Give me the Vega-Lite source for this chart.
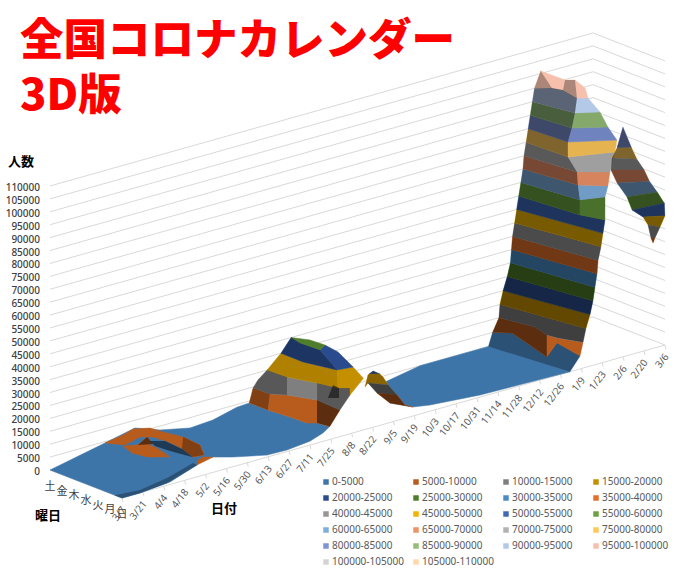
{
"$schema":"https://vega.github.io/schema/vega-lite/v6.json",
"width":680,"height":573,"padding":0,"autosize":{"type":"none"},
"background":"white",
"config":{"view":{"stroke":null}},
"resolve":{"scale":{"fill":"independent"}},
"title":{"text":["全国コロナカレンダー","3D版"],"font":"Noto Sans CJK JP","fontWeight":900,"fontSize":43.5,"lineHeight":55,"color":"#FF0000","anchor":"start","frame":"group","baseline":"top","dx":20,"offset":-119},
"datasets":{
"levels":[{"cases":0},{"cases":5000},{"cases":10000},{"cases":15000},{"cases":20000},{"cases":25000},{"cases":30000},{"cases":35000},{"cases":40000},{"cases":45000},{"cases":50000},{"cases":55000},{"cases":60000},{"cases":65000},{"cases":70000},{"cases":75000},{"cases":80000},{"cases":85000},{"cases":90000},{"cases":95000},{"cases":100000},{"cases":105000},{"cases":110000}],
"dates":[{"label":"3/7","week":0},{"label":"3/21","week":2},{"label":"4/4","week":4},{"label":"4/18","week":6},{"label":"5/2","week":8},{"label":"5/16","week":10},{"label":"5/30","week":12},{"label":"6/13","week":14},{"label":"6/27","week":16},{"label":"7/11","week":18},{"label":"7/25","week":20},{"label":"8/8","week":22},{"label":"8/22","week":24},{"label":"9/5","week":26},{"label":"9/19","week":28},{"label":"10/3","week":30},{"label":"10/17","week":32},{"label":"10/31","week":34},{"label":"11/14","week":36},{"label":"11/28","week":38},{"label":"12/12","week":40},{"label":"12/26","week":42},{"label":"1/9","week":44},{"label":"1/23","week":46},{"label":"2/6","week":48},{"label":"2/20","week":50},{"label":"3/6","week":52}],
"days":[{"label":"土","day":6},{"label":"金","day":5},{"label":"木","day":4},{"label":"水","day":3},{"label":"火","day":2},{"label":"月","day":1},{"label":"日","day":0}],
"names":[{"label":"人数","week":-2.78,"day":6,"cases":122300},{"label":"曜日","week":-6.68,"day":0.355,"cases":0},{"label":"日付","week":4.09,"day":-4.94,"cases":0}],
"edges":[{"edge":"day","week":0,"day":6},{"edge":"day","week":0,"day":0},{"edge":"date","week":0,"day":0},{"edge":"date","week":52,"day":0}],
"faces":[
{"poly":"f1","band":"0-5000","side":"flat"},{"poly":"f2","band":"0-5000","side":"mid"},{"poly":"f3","band":"0-5000","side":"flat"},
{"poly":"h1","band":"5000-10000","side":"flat"},{"poly":"h2","band":"5000-10000","side":"mid"},{"poly":"h3","band":"5000-10000","side":"flat"},{"poly":"h4","band":"5000-10000","side":"deep"},{"poly":"h5","band":"0-5000","side":"deep"},{"poly":"h6","band":"5000-10000","side":"flat"},
{"poly":"a1","band":"5000-10000","side":"mid"},{"poly":"a2","band":"5000-10000","side":"flat"},{"poly":"a3","band":"5000-10000","side":"deep"},
{"poly":"b1","band":"10000-15000","side":"mid"},{"poly":"b2","band":"10000-15000","side":"flat"},{"poly":"b3","band":"10000-15000","side":"mid"},{"poly":"b4","band":"10000-15000","side":"deep"},
{"poly":"c1","band":"15000-20000","side":"soft"},{"poly":"c2","band":"15000-20000","side":"flat"},
{"poly":"d1","band":"20000-25000","side":"mid"},{"poly":"d2","band":"20000-25000","side":"flat"},{"poly":"e1","band":"25000-30000","side":"flat"},
{"poly":"s1","band":"20000-25000","side":"mid"},{"poly":"s2","band":"15000-20000","side":"mid"},{"poly":"s3","band":"10000-15000","side":"deep"},{"poly":"s4","band":"5000-10000","side":"deep"},
{"poly":"w1","band":"0-5000","side":"mid"},{"poly":"w2","band":"5000-10000","side":"deep"},{"poly":"w3","band":"5000-10000","side":"flat"},{"poly":"w4","band":"10000-15000","side":"deep"},{"poly":"w5","band":"15000-20000","side":"deep"},{"poly":"w6","band":"20000-25000","side":"deep"},{"poly":"w7","band":"25000-30000","side":"deep"},{"poly":"w8","band":"30000-35000","side":"deep"},{"poly":"w9","band":"35000-40000","side":"deep"},{"poly":"w10","band":"40000-45000","side":"deep"},{"poly":"w11","band":"45000-50000","side":"deep"},{"poly":"w12","band":"50000-55000","side":"deep"},
{"poly":"x1","band":"15000-20000","side":"flat"},{"poly":"x2","band":"10000-15000","side":"flat"},
{"poly":"l13","band":"55000-60000","side":"deep"},{"poly":"r13","band":"55000-60000","side":"mid"},{"poly":"l14","band":"60000-65000","side":"deep"},{"poly":"r14","band":"60000-65000","side":"soft"},{"poly":"l15","band":"65000-70000","side":"deep"},{"poly":"r15","band":"65000-70000","side":"soft"},{"poly":"l16","band":"70000-75000","side":"deep"},{"poly":"r16","band":"70000-75000","side":"soft"},{"poly":"l17","band":"75000-80000","side":"deep"},{"poly":"r17","band":"75000-80000","side":"soft"},{"poly":"l18","band":"80000-85000","side":"deep"},{"poly":"r18","band":"80000-85000","side":"soft"},{"poly":"l19","band":"85000-90000","side":"deep"},{"poly":"r19","band":"85000-90000","side":"soft"},{"poly":"l20","band":"90000-95000","side":"deep"},{"poly":"r20","band":"90000-95000","side":"flat"},
{"poly":"p1","band":"95000-100000","side":"mid"},{"poly":"p2","band":"95000-100000","side":"flat"},{"poly":"p3","band":"95000-100000","side":"mid"},{"poly":"p4","band":"95000-100000","side":"flat"},
{"poly":"t1","band":"80000-85000","side":"deep"},{"poly":"t2","band":"75000-80000","side":"deep"},{"poly":"t3","band":"70000-75000","side":"deep"},{"poly":"t4","band":"65000-70000","side":"deep"},{"poly":"t5","band":"60000-65000","side":"deep"},{"poly":"t6","band":"55000-60000","side":"deep"},{"poly":"t7","band":"50000-55000","side":"deep"},{"poly":"t8","band":"45000-50000","side":"deep"},{"poly":"t9","band":"40000-45000","side":"deep"},{"poly":"t10","band":"35000-40000","side":"deep"}
],
"surface":[
{"poly":"f1","week":0,"day":6,"cases":0},{"poly":"f1","week":5.07,"day":5.83,"cases":5000},{"poly":"f1","week":8.14,"day":6,"cases":7000},{"poly":"f1","week":10.54,"day":6,"cases":3500},{"poly":"f1","week":13.41,"day":6,"cases":1000},{"poly":"f1","week":15.6,"day":6,"cases":1600},{"poly":"f1","week":17.9,"day":6,"cases":3900},{"poly":"f1","week":18.8,"day":5.75,"cases":5000},{"poly":"f1","week":18.83,"day":4.22,"cases":5000},{"poly":"f1","week":19.08,"day":2.35,"cases":5000},{"poly":"f1","week":19.14,"day":1.24,"cases":5000},{"poly":"f1","week":19.7,"day":0.89,"cases":5000},{"poly":"f1","week":19.9,"day":0,"cases":5000},{"poly":"f1","week":19.25,"day":0,"cases":3250},{"poly":"f1","week":18,"day":0,"cases":1500},{"poly":"f1","week":15.8,"day":0,"cases":600},{"poly":"f1","week":13.9,"day":0,"cases":800},{"poly":"f1","week":10.63,"day":0,"cases":3750},{"poly":"f1","week":7.85,"day":0,"cases":6900},{"poly":"f1","week":7.18,"day":0,"cases":4600},{"poly":"f1","week":4.6,"day":0,"cases":970},{"poly":"f1","week":1.72,"day":0,"cases":0},{"poly":"f1","week":0,"day":0,"cases":0},
{"poly":"f2","week":0,"day":0.6,"cases":0},{"poly":"f2","week":0,"day":0,"cases":0},{"poly":"f2","week":1.72,"day":0,"cases":0},{"poly":"f2","week":4.31,"day":0,"cases":900},{"poly":"f2","week":7.18,"day":0,"cases":4600},{"poly":"f2","week":7.24,"day":0.38,"cases":4600},{"poly":"f2","week":5.03,"day":0.62,"cases":900},{"poly":"f2","week":2.14,"day":0.36,"cases":0},
{"poly":"f3","week":31.17,"day":5.2,"cases":0},{"poly":"f3","week":35.44,"day":6,"cases":0},{"poly":"f3","week":42.1,"day":6,"cases":0},{"poly":"f3","week":42.9,"day":0,"cases":0},{"poly":"f3","week":34.3,"day":0,"cases":800},{"poly":"f3","week":29.5,"day":0,"cases":2400},{"poly":"f3","week":27.87,"day":0,"cases":3500},{"poly":"f3","week":26.6,"day":0.82,"cases":5000},
{"poly":"h1","week":5.07,"day":5.83,"cases":5000},{"poly":"h1","week":6.47,"day":5.54,"cases":7000},{"poly":"h1","week":7.88,"day":5.93,"cases":7000},{"poly":"h1","week":8.97,"day":5.47,"cases":7000},{"poly":"h1","week":9.12,"day":4.51,"cases":7000},{"poly":"h1","week":9.52,"day":3.19,"cases":7000},{"poly":"h1","week":9.31,"day":1.61,"cases":7000},{"poly":"h1","week":8.11,"day":0.22,"cases":7000},{"poly":"h1","week":7.16,"day":0.4,"cases":7000},{"poly":"h1","week":7.74,"day":1.74,"cases":7000},{"poly":"h1","week":7.94,"day":3.32,"cases":7000},{"poly":"h1","week":7.85,"day":4.24,"cases":7000},{"poly":"h1","week":7.13,"day":4.7,"cases":7000},{"poly":"h1","week":5.15,"day":4.24,"cases":7000},
{"poly":"h2","week":9.52,"day":3.19,"cases":7000},{"poly":"h2","week":9.31,"day":1.61,"cases":7000},{"poly":"h2","week":8.11,"day":0.22,"cases":7000},{"poly":"h2","week":7.16,"day":0.4,"cases":7000},{"poly":"h2","week":7.74,"day":1.74,"cases":7000},
{"poly":"h3","week":4.9,"day":4.17,"cases":7000},{"poly":"h3","week":6.52,"day":3.58,"cases":7000},{"poly":"h3","week":6.5,"day":2.73,"cases":7000},{"poly":"h3","week":5.94,"day":1.17,"cases":7000},{"poly":"h3","week":4.66,"day":1.97,"cases":7000},{"poly":"h3","week":4.4,"day":2.99,"cases":7000},
{"poly":"h4","week":5.87,"day":3.78,"cases":7000},{"poly":"h4","week":7.52,"day":4.45,"cases":7000},{"poly":"h4","week":6.85,"day":3.37,"cases":7000},
{"poly":"h5","week":8.23,"day":4.82,"cases":4000},{"poly":"h5","week":9.06,"day":4.29,"cases":4000},{"poly":"h5","week":8.86,"day":2.71,"cases":4000},{"poly":"h5","week":8.27,"day":1.36,"cases":4000},{"poly":"h5","week":7.91,"day":2.88,"cases":4000},{"poly":"h5","week":7.78,"day":4.02,"cases":4000},
{"poly":"h6","week":7.18,"day":0,"cases":4600},{"poly":"h6","week":8.72,"day":0,"cases":5900},{"poly":"h6","week":8.51,"day":0.65,"cases":5000},{"poly":"h6","week":7.8,"day":0.46,"cases":5000},
{"poly":"a1","week":18.8,"day":5.75,"cases":5000},{"poly":"a1","week":19.3,"day":5.87,"cases":10000},{"poly":"a1","week":19.39,"day":4.54,"cases":10000},{"poly":"a1","week":18.83,"day":4.22,"cases":5000},
{"poly":"a2","week":18.83,"day":4.22,"cases":5000},{"poly":"a2","week":19.39,"day":4.54,"cases":10000},{"poly":"a2","week":20.18,"day":3.81,"cases":10000},{"poly":"a2","week":21.14,"day":2.14,"cases":10000},{"poly":"a2","week":19.7,"day":0.89,"cases":5000},{"poly":"a2","week":19.14,"day":1.24,"cases":5000},{"poly":"a2","week":19.08,"day":2.35,"cases":5000},
{"poly":"a3","week":21.14,"day":2.14,"cases":10000},{"poly":"a3","week":21,"day":0.52,"cases":10000},{"poly":"a3","week":20.99,"day":0.1,"cases":10000},{"poly":"a3","week":19.9,"day":0,"cases":5000},{"poly":"a3","week":19.7,"day":0.89,"cases":5000},
{"poly":"b1","week":19.3,"day":5.87,"cases":10000},{"poly":"b1","week":19.79,"day":5.89,"cases":12500},{"poly":"b1","week":20.8,"day":6,"cases":15000},{"poly":"b1","week":20.91,"day":4.44,"cases":15000},{"poly":"b1","week":20.18,"day":3.81,"cases":10000},{"poly":"b1","week":19.39,"day":4.54,"cases":10000},
{"poly":"b2","week":20.91,"day":4.44,"cases":15000},{"poly":"b2","week":21.73,"day":2.65,"cases":15000},{"poly":"b2","week":21.14,"day":2.14,"cases":10000},{"poly":"b2","week":20.18,"day":3.81,"cases":10000},
{"poly":"b3","week":21.73,"day":2.65,"cases":15000},{"poly":"b3","week":22.18,"day":1.3,"cases":15000},{"poly":"b3","week":22.84,"day":0.88,"cases":15000},{"poly":"b3","week":21.84,"day":0,"cases":15000},{"poly":"b3","week":20.99,"day":0.1,"cases":10000},{"poly":"b3","week":21,"day":0.52,"cases":10000},{"poly":"b3","week":21.14,"day":2.14,"cases":10000},
{"poly":"b4","week":21.29,"day":1.36,"cases":12000},{"poly":"b4","week":23.43,"day":2.8,"cases":12000},{"poly":"b4","week":23.33,"day":2.21,"cases":12000},{"poly":"b4","week":21.9,"day":0.97,"cases":12000},
{"poly":"c1","week":20.8,"day":6,"cases":15000},{"poly":"c1","week":22.12,"day":6,"cases":20000},{"poly":"c1","week":22.1,"day":4.15,"cases":20000},{"poly":"c1","week":22.85,"day":1.96,"cases":20000},{"poly":"c1","week":22.18,"day":1.3,"cases":15000},{"poly":"c1","week":21.73,"day":2.65,"cases":15000},{"poly":"c1","week":20.91,"day":4.44,"cases":15000},
{"poly":"c2","week":22.85,"day":1.96,"cases":20000},{"poly":"c2","week":24.17,"day":1.77,"cases":20000},{"poly":"c2","week":23.12,"day":0,"cases":20000},{"poly":"c2","week":21.84,"day":0,"cases":15000},{"poly":"c2","week":22.84,"day":0.88,"cases":15000},{"poly":"c2","week":22.18,"day":1.3,"cases":15000},
{"poly":"d1","week":22.12,"day":6,"cases":20000},{"poly":"d1","week":23.1,"day":6,"cases":25000},{"poly":"d1","week":22.8,"day":5,"cases":25000},{"poly":"d1","week":22.91,"day":3.43,"cases":25000},{"poly":"d1","week":22.85,"day":1.96,"cases":20000},{"poly":"d1","week":22.1,"day":4.15,"cases":20000},
{"poly":"d2","week":22.91,"day":3.43,"cases":25000},{"poly":"d2","week":23.89,"day":3.87,"cases":25000},{"poly":"d2","week":24,"day":2.88,"cases":24000},{"poly":"d2","week":24.17,"day":1.77,"cases":20000},{"poly":"d2","week":22.85,"day":1.96,"cases":20000},
{"poly":"e1","week":23.1,"day":6,"cases":25000},{"poly":"e1","week":22.86,"day":4.23,"cases":27500},{"poly":"e1","week":22.98,"day":3.08,"cases":27500},{"poly":"e1","week":22.91,"day":3.43,"cases":25000},{"poly":"e1","week":22.8,"day":5,"cases":25000},
{"poly":"s1","week":24.06,"day":0.34,"cases":20000},{"poly":"s1","week":24.34,"day":0.25,"cases":21000},{"poly":"s1","week":24.7,"day":0,"cases":19900},
{"poly":"s2","week":23.82,"day":0.47,"cases":15000},{"poly":"s2","week":23.86,"day":0.26,"cases":20000},{"poly":"s2","week":24.06,"day":0.34,"cases":20000},{"poly":"s2","week":24.7,"day":0,"cases":19900},{"poly":"s2","week":25,"day":0,"cases":18400},{"poly":"s2","week":25.5,"day":0,"cases":14700},{"poly":"s2","week":24.56,"day":0.87,"cases":15000},
{"poly":"s3","week":24.56,"day":0.87,"cases":15000},{"poly":"s3","week":25.5,"day":0,"cases":14700},{"poly":"s3","week":26.34,"day":0,"cases":9900},{"poly":"s3","week":25.47,"day":0.91,"cases":10000},
{"poly":"s4","week":25.47,"day":0.91,"cases":10000},{"poly":"s4","week":26.34,"day":0,"cases":9900},{"poly":"s4","week":27.1,"day":0,"cases":5150},{"poly":"s4","week":27.87,"day":0,"cases":3500},{"poly":"s4","week":26.6,"day":0.82,"cases":5000},
{"poly":"w1","week":42,"day":6,"cases":0},{"poly":"w1","week":42.4,"day":6,"cases":5000},{"poly":"w1","week":43.38,"day":5.25,"cases":5000},{"poly":"w1","week":42.78,"day":3.47,"cases":5000},{"poly":"w1","week":41.89,"day":1.04,"cases":5000},{"poly":"w1","week":44.45,"day":2.42,"cases":5000},{"poly":"w1","week":43.87,"day":0,"cases":5000},{"poly":"w1","week":42.9,"day":0,"cases":0},{"poly":"w1","week":42.68,"day":1.5,"cases":0},
{"poly":"w2","week":42.4,"day":6,"cases":5000},{"poly":"w2","week":43,"day":6,"cases":10000},{"poly":"w2","week":43.67,"day":3.58,"cases":10000},{"poly":"w2","week":43.19,"day":2.17,"cases":10000},{"poly":"w2","week":41.89,"day":1.04,"cases":5000},{"poly":"w2","week":42.78,"day":3.47,"cases":5000},{"poly":"w2","week":43.38,"day":5.25,"cases":5000},
{"poly":"w3","week":43.19,"day":2.17,"cases":10000},{"poly":"w3","week":43.38,"day":1.41,"cases":10000},{"poly":"w3","week":44.16,"day":0,"cases":10000},{"poly":"w3","week":43.87,"day":0,"cases":5000},{"poly":"w3","week":44.45,"day":2.42,"cases":5000},{"poly":"w3","week":41.89,"day":1.04,"cases":5000},
{"poly":"w4","week":43,"day":6,"cases":10000},{"poly":"w4","week":43.1,"day":6,"cases":15000},{"poly":"w4","week":44.1,"day":1.5,"cases":15000},{"poly":"w4","week":44.44,"day":0,"cases":15000},{"poly":"w4","week":44.16,"day":0,"cases":10000},{"poly":"w4","week":43.38,"day":1.41,"cases":10000},{"poly":"w4","week":43.19,"day":2.17,"cases":10000},{"poly":"w4","week":43.67,"day":3.58,"cases":10000},
{"poly":"w5","week":43.1,"day":6,"cases":15000},{"poly":"w5","week":43.4,"day":6,"cases":20000},{"poly":"w5","week":44.47,"day":1.5,"cases":20000},{"poly":"w5","week":44.83,"day":0,"cases":20000},{"poly":"w5","week":44.44,"day":0,"cases":15000},{"poly":"w5","week":44.1,"day":1.5,"cases":15000},
{"poly":"w6","week":43.4,"day":6,"cases":20000},{"poly":"w6","week":43.8,"day":6,"cases":25000},{"poly":"w6","week":44.78,"day":1.5,"cases":25000},{"poly":"w6","week":45.11,"day":0,"cases":25000},{"poly":"w6","week":44.83,"day":0,"cases":20000},{"poly":"w6","week":44.47,"day":1.5,"cases":20000},
{"poly":"w7","week":43.8,"day":6,"cases":25000},{"poly":"w7","week":44.1,"day":6,"cases":30000},{"poly":"w7","week":45,"day":1.5,"cases":30000},{"poly":"w7","week":45.3,"day":0,"cases":30000},{"poly":"w7","week":45.11,"day":0,"cases":25000},{"poly":"w7","week":44.78,"day":1.5,"cases":25000},
{"poly":"w8","week":44.1,"day":6,"cases":30000},{"poly":"w8","week":44.2,"day":6,"cases":35000},{"poly":"w8","week":45.18,"day":1.5,"cases":35000},{"poly":"w8","week":45.5,"day":0,"cases":35000},{"poly":"w8","week":45.3,"day":0,"cases":30000},{"poly":"w8","week":45,"day":1.5,"cases":30000},
{"poly":"w9","week":44.2,"day":6,"cases":35000},{"poly":"w9","week":44.3,"day":6,"cases":40000},{"poly":"w9","week":45.28,"day":1.5,"cases":40000},{"poly":"w9","week":45.6,"day":0,"cases":40000},{"poly":"w9","week":45.5,"day":0,"cases":35000},{"poly":"w9","week":45.18,"day":1.5,"cases":35000},
{"poly":"w10","week":44.3,"day":6,"cases":40000},{"poly":"w10","week":44.5,"day":6,"cases":45000},{"poly":"w10","week":45.53,"day":1.5,"cases":45000},{"poly":"w10","week":45.88,"day":0,"cases":45000},{"poly":"w10","week":45.6,"day":0,"cases":40000},{"poly":"w10","week":45.28,"day":1.5,"cases":40000},
{"poly":"w11","week":44.5,"day":6,"cases":45000},{"poly":"w11","week":44.7,"day":6,"cases":50000},{"poly":"w11","week":45.73,"day":1.5,"cases":50000},{"poly":"w11","week":46.07,"day":0,"cases":50000},{"poly":"w11","week":45.88,"day":0,"cases":45000},{"poly":"w11","week":45.53,"day":1.5,"cases":45000},
{"poly":"w12","week":44.7,"day":6,"cases":50000},{"poly":"w12","week":44.9,"day":6,"cases":55000},{"poly":"w12","week":45.57,"day":1.49,"cases":55000},{"poly":"w12","week":46.26,"day":0,"cases":55000},{"poly":"w12","week":46.07,"day":0,"cases":50000},{"poly":"w12","week":45.73,"day":1.5,"cases":50000},
{"poly":"x1","week":44.55,"day":4.51,"cases":17000},{"poly":"x1","week":43.42,"day":2.86,"cases":17000},{"poly":"x1","week":43.26,"day":3.39,"cases":17000},
{"poly":"x2","week":44.37,"day":3.52,"cases":12000},{"poly":"x2","week":42.91,"day":1.67,"cases":12000},{"poly":"x2","week":44.77,"day":3.7,"cases":12000},
{"poly":"l13","week":44.9,"day":6,"cases":55000},{"poly":"l13","week":45.1,"day":6,"cases":60000},{"poly":"l13","week":45.87,"day":1.75,"cases":60000},{"poly":"l13","week":45.57,"day":1.49,"cases":55000},
{"poly":"r13","week":45.57,"day":1.49,"cases":55000},{"poly":"r13","week":45.87,"day":1.75,"cases":60000},{"poly":"r13","week":47.69,"day":1.24,"cases":60000},{"poly":"r13","week":46.26,"day":0,"cases":55000},
{"poly":"l14","week":45.1,"day":6,"cases":60000},{"poly":"l14","week":45.3,"day":6,"cases":65000},{"poly":"l14","week":46.06,"day":2.08,"cases":65000},{"poly":"l14","week":45.87,"day":1.75,"cases":60000},
{"poly":"r14","week":45.87,"day":1.75,"cases":60000},{"poly":"r14","week":46.06,"day":2.08,"cases":65000},{"poly":"r14","week":47.58,"day":0.9,"cases":65000},{"poly":"r14","week":47.69,"day":1.24,"cases":60000},
{"poly":"l15","week":45.3,"day":6,"cases":65000},{"poly":"l15","week":45.4,"day":6,"cases":70000},{"poly":"l15","week":46.02,"day":2.12,"cases":70000},{"poly":"l15","week":46.06,"day":2.08,"cases":65000},
{"poly":"r15","week":46.06,"day":2.08,"cases":65000},{"poly":"r15","week":46.02,"day":2.12,"cases":70000},{"poly":"r15","week":47.85,"day":0.97,"cases":70000},{"poly":"r15","week":47.58,"day":0.9,"cases":65000},
{"poly":"l16","week":45.4,"day":6,"cases":70000},{"poly":"l16","week":45.6,"day":6,"cases":75000},{"poly":"l16","week":45.81,"day":2.7,"cases":75000},{"poly":"l16","week":46.02,"day":2.12,"cases":70000},
{"poly":"r16","week":46.02,"day":2.12,"cases":70000},{"poly":"r16","week":45.81,"day":2.7,"cases":75000},{"poly":"r16","week":49.14,"day":1.67,"cases":75000},{"poly":"r16","week":47.85,"day":0.97,"cases":70000},
{"poly":"l17","week":45.6,"day":6,"cases":75000},{"poly":"l17","week":45.8,"day":6,"cases":80000},{"poly":"l17","week":46.1,"day":2.95,"cases":80000},{"poly":"l17","week":45.81,"day":2.7,"cases":75000},
{"poly":"r17","week":45.81,"day":2.7,"cases":75000},{"poly":"r17","week":46.1,"day":2.95,"cases":80000},{"poly":"r17","week":49.1,"day":1.48,"cases":80000},{"poly":"r17","week":49.14,"day":1.67,"cases":75000},
{"poly":"l18","week":45.8,"day":6,"cases":80000},{"poly":"l18","week":46,"day":6,"cases":85000},{"poly":"l18","week":46.48,"day":2.95,"cases":85000},{"poly":"l18","week":46.1,"day":2.95,"cases":80000},
{"poly":"r18","week":46.1,"day":2.95,"cases":80000},{"poly":"r18","week":46.48,"day":2.95,"cases":85000},{"poly":"r18","week":48.62,"day":1.81,"cases":85000},{"poly":"r18","week":49.1,"day":1.48,"cases":80000},
{"poly":"l19","week":46,"day":6,"cases":85000},{"poly":"l19","week":46.2,"day":6,"cases":90000},{"poly":"l19","week":46.95,"day":3.1,"cases":90000},{"poly":"l19","week":46.48,"day":2.95,"cases":85000},
{"poly":"r19","week":46.48,"day":2.95,"cases":85000},{"poly":"r19","week":46.95,"day":3.1,"cases":90000},{"poly":"r19","week":48.48,"day":2.35,"cases":90000},{"poly":"r19","week":48.62,"day":1.81,"cases":85000},
{"poly":"l20","week":46.2,"day":6,"cases":90000},{"poly":"l20","week":46.4,"day":6,"cases":95000},{"poly":"l20","week":47.4,"day":5.41,"cases":95000},{"poly":"l20","week":47.72,"day":4.77,"cases":95000},{"poly":"l20","week":47.36,"day":3.29,"cases":95000},{"poly":"l20","week":46.95,"day":3.1,"cases":90000},
{"poly":"r20","week":46.95,"day":3.1,"cases":90000},{"poly":"r20","week":47.36,"day":3.29,"cases":95000},{"poly":"r20","week":47.97,"day":2.91,"cases":95000},{"poly":"r20","week":48.48,"day":2.35,"cases":90000},
{"poly":"p1","week":46.4,"day":6,"cases":95000},{"poly":"p1","week":47,"day":6,"cases":101000},{"poly":"p1","week":47.4,"day":5.41,"cases":95000},
{"poly":"p2","week":47,"day":6,"cases":101000},{"poly":"p2","week":47.42,"day":4.34,"cases":100000},{"poly":"p2","week":47.72,"day":4.77,"cases":95000},{"poly":"p2","week":47.4,"day":5.41,"cases":95000},
{"poly":"p3","week":47.72,"day":4.77,"cases":95000},{"poly":"p3","week":47.42,"day":4.34,"cases":100000},{"poly":"p3","week":47.98,"day":3.99,"cases":100000},{"poly":"p3","week":47.36,"day":3.29,"cases":95000},
{"poly":"p4","week":47.98,"day":3.99,"cases":100000},{"poly":"p4","week":48.33,"day":3.46,"cases":97500},{"poly":"p4","week":47.97,"day":2.91,"cases":95000},{"poly":"p4","week":47.36,"day":3.29,"cases":95000},
{"poly":"t1","week":50.2,"day":1.93,"cases":83000},{"poly":"t1","week":48.81,"day":0,"cases":80000},{"poly":"t1","week":47.97,"day":0.49,"cases":80000},
{"poly":"t2","week":47.97,"day":0.49,"cases":80000},{"poly":"t2","week":48.81,"day":0,"cases":80000},{"poly":"t2","week":49.33,"day":0,"cases":75000},{"poly":"t2","week":48.11,"day":1.03,"cases":75000},
{"poly":"t3","week":48.11,"day":1.03,"cases":75000},{"poly":"t3","week":49.33,"day":0,"cases":75000},{"poly":"t3","week":50.02,"day":0,"cases":70000},{"poly":"t3","week":48.19,"day":1.18,"cases":70000},
{"poly":"t4","week":48.19,"day":1.18,"cases":70000},{"poly":"t4","week":50.02,"day":0,"cases":70000},{"poly":"t4","week":50.54,"day":0,"cases":65000},{"poly":"t4","week":48.51,"day":0.95,"cases":65000},
{"poly":"t5","week":48.51,"day":0.95,"cases":65000},{"poly":"t5","week":50.54,"day":0,"cases":65000},{"poly":"t5","week":51.28,"day":0,"cases":60000},{"poly":"t5","week":48.91,"day":0.47,"cases":60000},
{"poly":"t6","week":48.91,"day":0.47,"cases":60000},{"poly":"t6","week":51.28,"day":0,"cases":60000},{"poly":"t6","week":51.95,"day":0,"cases":55000},{"poly":"t6","week":49.18,"day":0.28,"cases":55000},
{"poly":"t7","week":49.18,"day":0.28,"cases":55000},{"poly":"t7","week":51.95,"day":0,"cases":55000},{"poly":"t7","week":52,"day":0,"cases":50000},{"poly":"t7","week":50.63,"day":0.63,"cases":50000},
{"poly":"t8","week":50.63,"day":0.63,"cases":50000},{"poly":"t8","week":52,"day":0,"cases":50000},{"poly":"t8","week":51.99,"day":0.39,"cases":45000},{"poly":"t8","week":51.6,"day":1.06,"cases":45000},
{"poly":"t9","week":51.6,"day":1.06,"cases":45000},{"poly":"t9","week":51.99,"day":0.39,"cases":45000},{"poly":"t9","week":51.98,"day":0.81,"cases":40000},{"poly":"t9","week":51.76,"day":0.95,"cases":40000},
{"poly":"t10","week":51.76,"day":0.95,"cases":40000},{"poly":"t10","week":51.98,"day":0.81,"cases":40000},{"poly":"t10","week":51.9,"day":0.9,"cases":38000}
]
},
"encoding":{
"x":{"field":"sx","type":"quantitative","scale":{"domain":[0,680],"nice":false},"axis":null},
"y":{"field":"sy","type":"quantitative","scale":{"domain":[573,0],"nice":false},"axis":null}
},
"layer":[
{"data":{"name":"levels"},
"transform":[{"calculate":"50","as":"sx"},{"calculate":"470-0.002582*datum.cases","as":"sy"},{"calculate":"593","as":"ex"},{"calculate":"317-0.002582*datum.cases","as":"ey"}],
"mark":{"type":"rule","stroke":"#D9D9D9","strokeWidth":1},
"encoding":{"x2":{"field":"ex"},"y2":{"field":"ey"}}},
{"data":{"name":"levels"},
"transform":[{"calculate":"593","as":"sx"},{"calculate":"317-0.002582*datum.cases","as":"sy"},{"calculate":"665","as":"ex"},{"calculate":"345-0.002582*datum.cases","as":"ey"}],
"mark":{"type":"rule","stroke":"#D9D9D9","strokeWidth":1},
"encoding":{"x2":{"field":"ex"},"y2":{"field":"ey"}}},
{"data":{"name":"edges"},
"transform":[{"calculate":"122+10.44*datum.week-12*datum.day","as":"sx"},{"calculate":"498-2.942*datum.week-4.667*datum.day","as":"sy"}],
"mark":{"type":"line","stroke":"#D9D9D9","strokeWidth":1},
"encoding":{"detail":{"field":"edge"}}},
{"data":{"name":"dates"},
"transform":[{"calculate":"122+10.44*datum.week","as":"sx"},{"calculate":"498-2.942*datum.week","as":"sy"},{"calculate":"datum.sx+1","as":"ex"},{"calculate":"datum.sy+4","as":"ey"}],
"mark":{"type":"rule","stroke":"#D9D9D9","strokeWidth":1},
"encoding":{"x2":{"field":"ex"},"y2":{"field":"ey"}}},
{"data":{"name":"surface"},
"transform":[{"window":[{"op":"row_number","as":"n"}]},{"lookup":"poly","from":{"data":{"name":"faces"},"key":"poly","fields":["band","side"]}},{"calculate":"122+10.44*datum.week-12*datum.day","as":"sx"},{"calculate":"498-2.942*datum.week-4.667*datum.day-0.002582*datum.cases","as":"sy"}],
"mark":{"type":"line","strokeWidth":0.5,"interpolate":"linear-closed"},
"encoding":{"detail":{"field":"poly"},"order":{"field":"n","type":"quantitative"},
"fill":{"field":"band","type":"nominal","scale":{"domain":["0-5000","5000-10000","10000-15000","15000-20000","20000-25000","25000-30000","30000-35000","35000-40000","40000-45000","45000-50000","50000-55000","55000-60000","60000-65000","65000-70000","70000-75000","75000-80000","80000-85000","85000-90000","90000-95000","95000-100000","100000-105000","105000-110000"],"range":["#3E75A8","#B85C1E","#7F7F7F","#C49000","#2A4C8F","#4E7D2B","#4A8CC7","#E0702A","#969696","#F0B400","#3F68B8","#69A23E","#7EAEDC","#EE9368","#B2B2B2","#FFC85A","#7C93D4","#93BD78","#B4C9E8","#F6C0AC","#D4D4D4","#FFD9A8"]},
"legend":{"title":null,"orient":"none","legendX":321,"legendY":477,"columns":4,"direction":"horizontal","symbolType":"square","symbolSize":30,"symbolStrokeWidth":0,"labelFontSize":10,"labelColor":"#595959","labelFont":"Noto Sans","gridAlign":"all","columnPadding":7,"rowPadding":6,"labelOffset":1}},
"stroke":{"field":"band","type":"nominal","scale":{"domain":["0-5000","5000-10000","10000-15000","15000-20000","20000-25000","25000-30000","30000-35000","35000-40000","40000-45000","45000-50000","50000-55000","55000-60000","60000-65000","65000-70000","70000-75000","75000-80000","80000-85000","85000-90000","90000-95000","95000-100000","100000-105000","105000-110000"],"range":["#3E75A8","#B85C1E","#7F7F7F","#C49000","#2A4C8F","#4E7D2B","#4A8CC7","#E0702A","#969696","#F0B400","#3F68B8","#69A23E","#7EAEDC","#EE9368","#B2B2B2","#FFC85A","#7C93D4","#93BD78","#B4C9E8","#F6C0AC","#D4D4D4","#FFD9A8"]},"legend":null}}},
{"data":{"name":"surface"},
"transform":[{"window":[{"op":"row_number","as":"n"}]},{"lookup":"poly","from":{"data":{"name":"faces"},"key":"poly","fields":["band","side"]}},{"filter":"datum.side!=='flat'"},{"calculate":"122+10.44*datum.week-12*datum.day","as":"sx"},{"calculate":"498-2.942*datum.week-4.667*datum.day-0.002582*datum.cases","as":"sy"}],
"mark":{"type":"line","strokeWidth":0,"interpolate":"linear-closed"},
"encoding":{"detail":{"field":"poly"},"order":{"field":"n","type":"quantitative"},
"fill":{"field":"side","type":"nominal","scale":{"domain":["soft","mid","deep"],"range":["rgba(0,0,0,0.1)","rgba(0,0,0,0.3)","rgba(0,0,0,0.5)"]},"legend":null}}},
{"data":{"name":"levels"},
"transform":[{"calculate":"40","as":"sx"},{"calculate":"472-0.002582*datum.cases","as":"sy"}],
"mark":{"type":"text","align":"right","baseline":"middle","font":"Noto Sans","fontSize":10,"fontWeight":500,"color":"#404040"},
"encoding":{"text":{"field":"cases","type":"quantitative","format":"d"}}},
{"data":{"name":"dates"},
"transform":[{"calculate":"124+10.44*datum.week","as":"sx"},{"calculate":"508-2.942*datum.week","as":"sy"}],
"mark":{"type":"text","align":"right","baseline":"middle","angle":308,"font":"Noto Sans","fontSize":10,"color":"#595959"},
"encoding":{"text":{"field":"label"}}},
{"data":{"name":"days"},
"transform":[{"calculate":"122-12*datum.day","as":"sx"},{"calculate":"515-4.667*datum.day","as":"sy"}],
"mark":{"type":"text","align":"center","baseline":"middle","font":"Noto Sans CJK JP","fontSize":11,"color":"#404040"},
"encoding":{"text":{"field":"label"}}},
{"data":{"name":"names"},
"transform":[{"calculate":"122+10.44*datum.week-12*datum.day","as":"sx"},{"calculate":"498-2.942*datum.week-4.667*datum.day-0.002582*datum.cases","as":"sy"}],
"mark":{"type":"text","align":"center","baseline":"middle","font":"Noto Sans CJK JP","fontSize":13,"fontWeight":700,"color":"#000000"},
"encoding":{"text":{"field":"label"}}}
]
}
